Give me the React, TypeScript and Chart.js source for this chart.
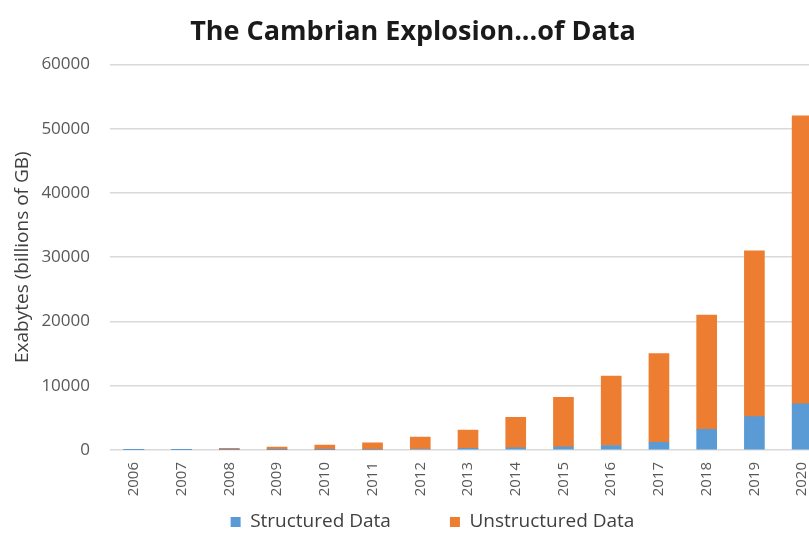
import React, { useEffect, useRef } from "react";
import { Chart, registerables } from "chart.js";

Chart.register(...registerables);

const years = ["2006","2007","2008","2009","2010","2011","2012","2013","2014","2015","2016","2017","2018","2019","2020"];
const structuredData = [5, 10, 20, 40, 60, 90, 150, 250, 350, 500, 700, 1200, 3200, 5200, 7200];
const unstructuredData = [45, 90, 230, 410, 690, 1010, 1850, 2850, 4750, 7700, 10800, 13800, 17800, 25800, 44800];
const yTicks = [0, 10000, 20000, 30000, 40000, 50000, 60000];

const FONT = "'Open Sans', 'Noto Sans', sans-serif";
const LEGEND_PAD = 59;
const LEGEND_FONT = 19;
const LEGEND_CENTER_Y = 522;

// keeps the wide horizontal gap between legend items without a tall legend box
const legendPlacement = {
  id: "legendPlacement",
  beforeLayout(chart: any) {
    const lg = chart.legend;
    if (lg && !lg.__patched) {
      const orig = lg.fit.bind(lg);
      lg.fit = function () {
        orig();
        this.height = 34;
      };
      lg.__patched = true;
    }
  },
  afterLayout(chart: any) {
    const lg = chart.legend;
    if (lg) {
      lg.top = LEGEND_CENTER_Y - LEGEND_FONT / 2 - LEGEND_PAD;
      lg.bottom = chart.height;
      lg.height = lg.bottom - lg.top;
    }
    const tb = chart.titleBlock;
    if (tb) {
      tb.left = 0;
      tb.width = tb.right - tb.left;
    }
  },
};

export default function App() {
  const ref = useRef<HTMLCanvasElement | null>(null);
  useEffect(() => {
    if (!ref.current) return;
    const chart = new Chart(ref.current, {
      type: "bar",
      data: {
        labels: years,
        datasets: [
          { label: "Structured Data", data: structuredData, backgroundColor: "#5B9BD5", barThickness: 20 },
          { label: "Unstructured Data", data: unstructuredData, backgroundColor: "#ED7D31", barThickness: 20 },
        ],
      },
      plugins: [legendPlacement],
      options: {
        responsive: false,
        animation: false,
        maintainAspectRatio: false,
        layout: { padding: { left: 39, right: 0, top: 0, bottom: 0 } },
        plugins: {
          title: {
            display: true,
            text: "The Cambrian Explosion...of Data",
            color: "#1a1a1a",
            font: { family: FONT, size: 27, weight: "bold" },
            padding: { top: 16, bottom: 16 },
          },
          legend: {
            position: "bottom",
            labels: {
              color: "#404040",
              font: { family: FONT, size: LEGEND_FONT },
              boxWidth: 10,
              boxHeight: 10,
              padding: LEGEND_PAD,
            },
          },
          tooltip: { enabled: false },
        },
        scales: {
          x: {
            stacked: true,
            grid: { display: false },
            border: { display: false },
            afterFit: (scale: any) => {
              scale.height = 55;
            },
            ticks: {
              color: "#595959",
              font: { family: FONT, size: 15 },
              minRotation: 90,
              maxRotation: 90,
              padding: 4,
            },
          },
          y: {
            stacked: true,
            min: 0,
            max: 60000,
            afterBuildTicks: (scale: any) => {
              scale.ticks = yTicks.map((v) => ({ value: v }));
            },
            afterFit: (scale: any) => {
              scale.width = 71;
            },
            grid: { color: "#d9d9d9", drawTicks: false, lineWidth: 1.5 },
            border: { display: false },
            ticks: {
              color: "#595959",
              font: { family: FONT, size: 17 },
              padding: 20,
              callback: (v: any) => String(v),
            },
            title: {
              display: true,
              text: "Exabytes (billions of GB)",
              color: "#404040",
              font: { family: FONT, size: 19 },
              padding: { top: -28, bottom: 0 },
            },
          },
        },
      },
    });
    return () => chart.destroy();
  }, []);
  return (
    <div style={{ position: "fixed", left: 0, top: 0, width: 809, height: 539, overflow: "hidden", background: "#fff" }}>
      <canvas ref={ref} width={826} height={539} style={{ display: "block" }} />
    </div>
  );
}
